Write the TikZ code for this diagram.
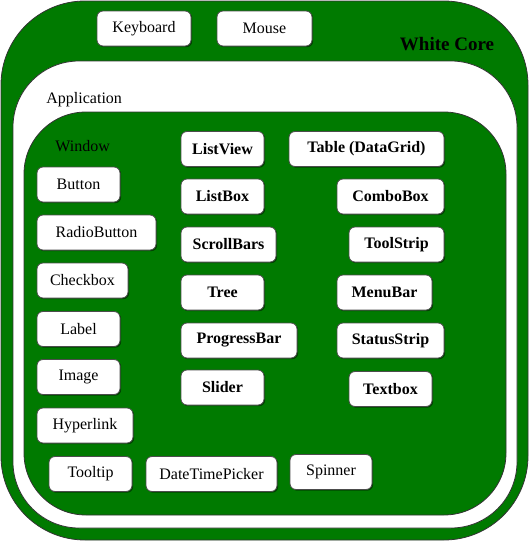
\documentclass[tikz,border=0pt]{standalone}
\usepackage{fontspec}
\setmainfont{Liberation Serif}
\usetikzlibrary{shadows}
\definecolor{coregreen}{RGB}{0,122,0}
\begin{document}
\begin{tikzpicture}[x = 0.5pt, y = -0.5pt,
  ctl/.style = {draw = black!70, fill = white, rounded corners = 3pt, inner sep = 0pt,
    minimum height = 17.5pt, minimum width = #1, font = \fontsize{8}{9}\selectfont,
    drop shadow = {shadow xshift = 0.6pt, shadow yshift = -0.6pt, opacity = 0.45, fill = black}},
  ctl/.default = 41.5pt,
  bctl/.style = {ctl = #1, font = \fontsize{8}{9}\selectfont\bfseries},
  bctl/.default = 41.5pt,
  area/.style = {anchor = west, inner sep = 0pt, font = \fontsize{8}{9}\selectfont}]
\useasboundingbox (0,0) rectangle (530,542);
\filldraw[fill = coregreen, draw = black!80, rounded corners = 42pt] (1,1) rectangle (528,540);
\filldraw[fill = white, draw = black!80, rounded corners = 33pt] (13,61) rectangle (517,528);
\filldraw[fill = coregreen, draw = black!80, rounded corners = 31pt] (24,112) rectangle (506,515);
\node[font = \fontsize{9.5}{11}\selectfont\bfseries] at (447,44) (core) {White Core};
\node[area] at (46,100) (app) {Application};
\node[area] at (55,146) (win) {Window};
\node[ctl = 47pt] at (144,28.5) (keyboard) {Keyboard};
\node[ctl = 47.5pt] at (264.5,28.5) (mouse) {Mouse};
\node[ctl] at (78.5,184.5) (button) {Button};
\node[ctl = 59.5pt] at (96.5,232.5) (radio) {RadioButton};
\node[ctl = 45.5pt] at (82.5,280.5) (checkbox) {Checkbox};
\node[ctl] at (78.5,329) (label) {Label};
\node[ctl] at (78.5,377) (image) {Image};
\node[ctl = 48pt] at (85,425.5) (hyperlink) {Hyperlink};
\node[ctl] at (90.5,474) (tooltip) {Tooltip};
\node[ctl = 65.5pt] at (211.5,474) (datetime) {DateTimePicker};
\node[ctl = 41pt] at (331,472) (spinner) {Spinner};
\node[bctl] at (222.5,149) (listview) {ListView};
\node[bctl = 77.5pt] at (366.5,149) (table) {Table (DataGrid)};
\node[bctl] at (222.5,196.5) (listbox) {ListBox};
\node[bctl = 53.5pt] at (390.5,196.5) (combobox) {ComboBox};
\node[bctl = 47.5pt] at (228.5,244.5) (scrollbars) {ScrollBars};
\node[bctl = 47.5pt] at (396.5,244.5) (toolstrip) {ToolStrip};
\node[bctl] at (222.5,292.5) (tree) {Tree};
\node[bctl = 47.5pt] at (384.5,292.5) (menubar) {MenuBar};
\node[bctl = 58pt] at (239,340.5) (progressbar) {ProgressBar};
\node[bctl = 53.5pt] at (390.5,340.5) (statusstrip) {StatusStrip};
\node[bctl] at (222.5,387.5) (slider) {Slider};
\node[bctl] at (390.5,389) (textbox) {Textbox};
\end{tikzpicture}
\end{document}
